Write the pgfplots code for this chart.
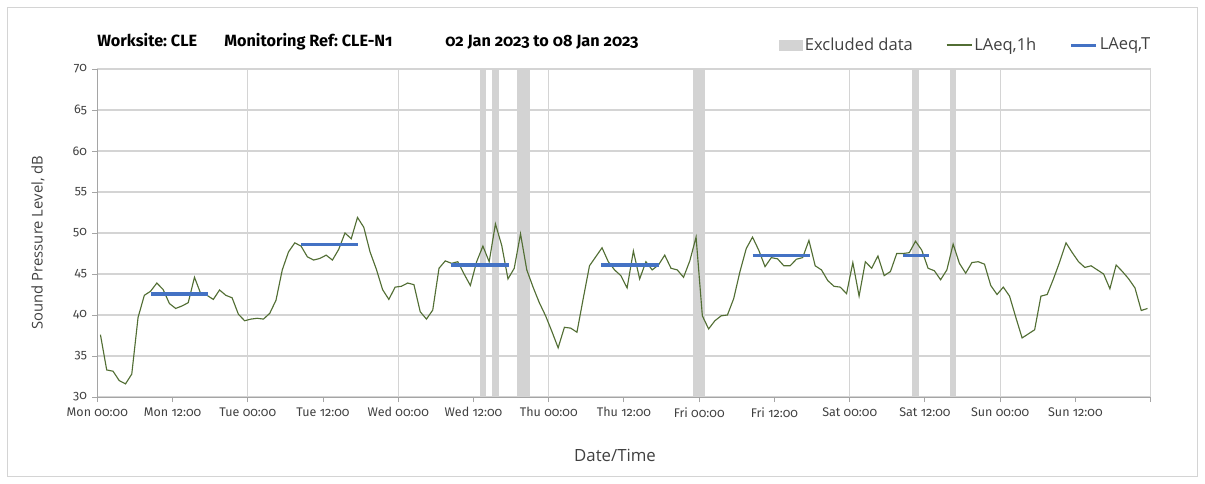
\documentclass[border=0pt]{standalone}
\usepackage{pgfplots}
\usepackage{pgfplotstable}
\pgfplotsset{compat=1.18}
\usepackage{fontspec}
\setmainfont{Carlito}
\newfontfamily\fira{Fira Sans}[Numbers=OldStyle]
\newfontfamily\seg{Open Sans}
\frenchspacing
\definecolor{olivel}{RGB}{82,110,52}
\definecolor{lblue}{RGB}{68,114,196}
\definecolor{band}{RGB}{211,211,211}
\definecolor{gridc}{RGB}{212,212,212}
\definecolor{axc}{RGB}{165,165,165}
\definecolor{txt}{RGB}{64,64,64}
\pgfplotstableread{
h v
0.5 37.6
1.5 33.3
2.5 33.15
3.5 32.0
4.5 31.6
5.5 32.8
6.5 39.7
7.5 42.4
8.5 42.9
9.5 43.9
10.5 43.1
11.5 41.4
12.5 40.8
13.5 41.1
14.5 41.5
15.5 44.6
16.5 42.6
17.5 42.4
18.5 41.9
19.5 43.05
20.5 42.4
21.5 42.1
22.5 40.1
23.5 39.3
24.5 39.5
25.5 39.6
26.5 39.5
27.5 40.2
28.5 41.8
29.5 45.5
30.5 47.7
31.5 48.8
32.5 48.4
33.5 47.1
34.5 46.7
35.5 46.9
36.5 47.3
37.5 46.7
38.5 48.0
39.5 50.0
40.5 49.3
41.5 51.9
42.5 50.7
43.5 47.7
44.5 45.6
45.5 43.1
46.5 41.9
47.5 43.4
48.5 43.5
49.5 43.9
50.5 43.7
51.5 40.4
52.5 39.5
53.5 40.6
54.5 45.7
55.5 46.6
56.5 46.3
57.5 46.5
58.5 45.0
59.5 43.6
60.5 46.5
61.5 48.4
62.5 46.5
63.5 51.1
64.5 48.5
65.5 44.4
66.5 45.7
67.5 49.9
68.5 45.5
69.5 43.4
70.5 41.5
71.5 39.9
72.5 38.0
73.5 36.0
74.5 38.5
75.5 38.4
76.5 37.9
77.5 42.0
78.5 46.0
79.5 47.1
80.5 48.2
81.5 46.5
82.5 45.5
83.5 44.8
84.5 43.3
85.5 47.8
86.5 44.4
87.5 46.5
88.5 45.5
89.5 46.1
90.5 47.3
91.5 45.7
92.5 45.5
93.5 44.6
94.5 46.6
95.5 49.5
96.5 39.9
97.5 38.3
98.5 39.3
99.5 39.9
100.5 40.0
101.5 42.0
102.5 45.3
103.5 48.1
104.5 49.5
105.5 47.9
106.5 45.9
107.5 47.0
108.5 46.85
109.5 46.0
110.5 46.0
111.5 46.8
112.5 47.0
113.5 49.1
114.5 46.0
115.5 45.5
116.5 44.2
117.5 43.5
118.5 43.4
119.5 42.6
120.5 46.4
121.5 42.3
122.5 46.5
123.5 45.7
124.5 47.2
125.5 44.8
126.5 45.3
127.5 47.5
128.5 47.5
129.5 47.6
130.5 49.0
131.5 47.9
132.5 45.7
133.5 45.4
134.5 44.3
135.5 45.5
136.5 48.65
137.5 46.3
138.5 45.1
139.5 46.4
140.5 46.5
141.5 46.2
142.5 43.6
143.5 42.5
144.5 43.4
145.5 42.3
146.5 39.7
147.5 37.2
148.5 37.7
149.5 38.2
150.5 42.3
151.5 42.5
152.5 44.4
153.5 46.5
154.5 48.8
155.5 47.6
156.5 46.5
157.5 45.8
158.5 46.0
159.5 45.5
160.5 45.0
161.5 43.2
162.5 46.1
163.5 45.3
164.5 44.4
165.5 43.3
166.5 40.55
167.5 40.8
}\hourly
\begin{document}
\begin{tikzpicture}[x=0.75pt,y=0.75pt]
\path[use as bounding box] (0,0) rectangle (1205,483);
\draw[gridc, line width=0.75pt] (7,7) rectangle (1197,475);
\begin{scope}[every node/.style={anchor=base west, inner sep=0pt, font=\fira\bfseries\fontsize{12.2}{14}\selectfont}]
\node at (97,436) {Worksite: CLE};
\node at (224,436) {Monitoring Ref: CLE-N1};
\node at (445,436) {02 Jan 2023 to 08 Jan 2023};
\end{scope}
\begin{axis}[
  at={(72.975pt,64.5pt)}, anchor=south west,
  scale only axis, width=790pt, height=246pt,
  xmin=0, xmax=168, ymin=30, ymax=70,
  axis x line*=bottom, axis y line*=left,
  axis line style={draw=axc, line width=0.75pt},
  tick align=outside, major tick length=3.75pt,
  tick style={draw=axc, line width=0.75pt},
  xtick={0,12,...,156},
  xticklabels={Mon 00:00,Mon 12:00,Tue 00:00,Tue 12:00,Wed 00:00,Wed 12:00,Thu 00:00,Thu 12:00,Fri 00:00,Fri 12:00,Sat 00:00,Sat 12:00,Sun 00:00,Sun 12:00},
  extra x ticks={24,48,72,96,120,144,168},
  extra x tick labels={},
  extra x tick style={xmajorgrids=true},
  ytick={30,35,...,70},
  ymajorgrids=true,
  major grid style={draw=gridc, line width=0.9pt},
  /pgf/number format/assume math mode=true,
  ticklabel style={font=\fira\fontsize{9.4}{11}\selectfont, text=txt},
  yticklabel style={xshift=-0.5pt},
  xticklabel style={yshift=-0.5pt},
  every axis y label/.style={at={(rel axis cs:-0.0563,0.471)}, rotate=90, anchor=center, font=\seg\fontsize{11.1}{13}\selectfont, text=txt},
  every axis x label/.style={at={(rel axis cs:0.4915,-0.177)}, anchor=center, font=\seg\fontsize{12.6}{14}\selectfont, text=txt},
  ylabel={Sound Pressure Level, dB},
  xlabel={Date/Time},
  legend columns=3,
  legend style={at={(0.643,1.073)}, anchor=west, draw=none, fill=none,
    font=\seg\fontsize{12.4}{14}\selectfont, text=txt,
    nodes={inner sep=1.5pt},
    /tikz/every even column/.append style={column sep=23.5pt}},
  clip=true,
]
\addplot[draw=none, fill=band, area legend,
  legend image code/.code={\fill[band] (0pt,-4.1pt) rectangle (18pt,4.1pt);}]
  coordinates {(61,30) (62,30) (62,70) (61,70)} -- cycle;
\addlegendentry{Excluded data}
\addplot[draw=none, fill=band, forget plot] coordinates {(63,30) (64,30) (64,70) (63,70)} -- cycle;
\addplot[draw=none, fill=band, forget plot] coordinates {(67,30) (69,30) (69,70) (67,70)} -- cycle;
\addplot[draw=none, fill=band, forget plot] coordinates {(95,30) (97,30) (97,70) (95,70)} -- cycle;
\addplot[draw=none, fill=band, forget plot] coordinates {(130,30) (131,30) (131,70) (130,70)} -- cycle;
\addplot[draw=none, fill=band, forget plot] coordinates {(136,30) (137,30) (137,70) (136,70)} -- cycle;
\addplot[olivel, line width=0.85pt, no marks,
  legend image code/.code={\draw[olivel, line width=0.85pt] (0pt,0pt) -- (18.75pt,0pt);}]
  table[x=h, y=v] {\hourly};
\addlegendentry{LAeq,1h}
\addplot[lblue, line width=2.3pt, no marks,
  legend image code/.code={\draw[lblue, line width=2.3pt] (0pt,0pt) -- (18.75pt,0pt);}]
  coordinates {(8.5,42.56) (17.6,42.56)};
\addlegendentry{LAeq,T}
\addplot[lblue, line width=2.3pt, no marks, forget plot] coordinates {(32.5,48.57) (41.6,48.57)};
\addplot[lblue, line width=2.3pt, no marks, forget plot] coordinates {(56.4,46.1) (65.6,46.1)};
\addplot[lblue, line width=2.3pt, no marks, forget plot] coordinates {(80.4,46.1) (89.6,46.1)};
\addplot[lblue, line width=2.3pt, no marks, forget plot] coordinates {(104.5,47.3) (113.6,47.3)};
\addplot[lblue, line width=2.3pt, no marks, forget plot] coordinates {(128.5,47.2) (132.6,47.2)};
\end{axis}
\end{tikzpicture}
\end{document}
